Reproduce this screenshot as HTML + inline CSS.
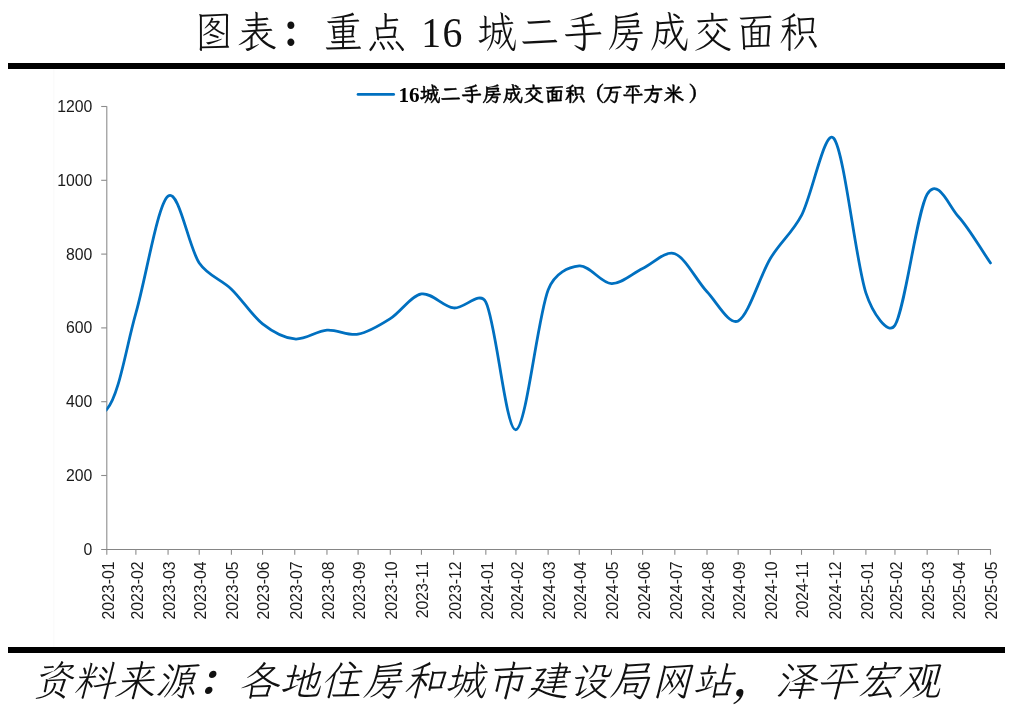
<!DOCTYPE html>
<html lang="zh-CN">
<head>
<meta charset="utf-8">
<title>图表：重点 16 城二手房成交面积</title>
<style>
html,body{margin:0;padding:0;background:#fff;}
body{width:1012px;height:712px;position:relative;overflow:hidden;}
.bar{position:absolute;left:8px;width:997px;height:6px;background:#000;}
</style>
</head>
<body>
<div class="bar" style="top:63px"></div>
<svg width="1012" height="712" viewBox="0 0 1012 712" style="position:absolute;left:0;top:0">
<line x1="53.8" y1="69" x2="53.8" y2="647" stroke="#f9f9f9" stroke-width="1"/>
<g stroke="#8c8c8c" stroke-width="1.1" fill="none">
<line x1="106.8" y1="106.2" x2="106.8" y2="554.8"/>
<line x1="101.2" y1="549.5" x2="991.0" y2="549.5" stroke="#858585" stroke-width="1"/>
<line x1="101.2" y1="475.50" x2="106.8" y2="475.50"/>
<line x1="101.2" y1="401.70" x2="106.8" y2="401.70"/>
<line x1="101.2" y1="327.90" x2="106.8" y2="327.90"/>
<line x1="101.2" y1="254.10" x2="106.8" y2="254.10"/>
<line x1="101.2" y1="180.30" x2="106.8" y2="180.30"/>
<line x1="101.2" y1="106.50" x2="106.8" y2="106.50"/>
<line x1="135.88" y1="549.3" x2="135.88" y2="554.8"/>
<line x1="168.07" y1="549.3" x2="168.07" y2="554.8"/>
<line x1="199.22" y1="549.3" x2="199.22" y2="554.8"/>
<line x1="231.41" y1="549.3" x2="231.41" y2="554.8"/>
<line x1="262.56" y1="549.3" x2="262.56" y2="554.8"/>
<line x1="294.75" y1="549.3" x2="294.75" y2="554.8"/>
<line x1="326.95" y1="549.3" x2="326.95" y2="554.8"/>
<line x1="358.10" y1="549.3" x2="358.10" y2="554.8"/>
<line x1="390.29" y1="549.3" x2="390.29" y2="554.8"/>
<line x1="421.44" y1="549.3" x2="421.44" y2="554.8"/>
<line x1="453.63" y1="549.3" x2="453.63" y2="554.8"/>
<line x1="485.83" y1="549.3" x2="485.83" y2="554.8"/>
<line x1="515.94" y1="549.3" x2="515.94" y2="554.8"/>
<line x1="548.13" y1="549.3" x2="548.13" y2="554.8"/>
<line x1="579.28" y1="549.3" x2="579.28" y2="554.8"/>
<line x1="611.47" y1="549.3" x2="611.47" y2="554.8"/>
<line x1="642.63" y1="549.3" x2="642.63" y2="554.8"/>
<line x1="674.82" y1="549.3" x2="674.82" y2="554.8"/>
<line x1="707.01" y1="549.3" x2="707.01" y2="554.8"/>
<line x1="738.16" y1="549.3" x2="738.16" y2="554.8"/>
<line x1="770.35" y1="549.3" x2="770.35" y2="554.8"/>
<line x1="801.51" y1="549.3" x2="801.51" y2="554.8"/>
<line x1="833.70" y1="549.3" x2="833.70" y2="554.8"/>
<line x1="865.89" y1="549.3" x2="865.89" y2="554.8"/>
<line x1="894.96" y1="549.3" x2="894.96" y2="554.8"/>
<line x1="927.16" y1="549.3" x2="927.16" y2="554.8"/>
<line x1="958.31" y1="549.3" x2="958.31" y2="554.8"/>
<line x1="990.50" y1="549.3" x2="990.50" y2="554.8"/>
</g>
<g font-family="'Liberation Sans', sans-serif" font-size="15.8" fill="#1a1a1a" text-anchor="end">
<text x="92.3" y="554.70">0</text>
<text x="92.3" y="480.90">200</text>
<text x="92.3" y="407.10">400</text>
<text x="92.3" y="333.30">600</text>
<text x="92.3" y="259.50">800</text>
<text x="92.3" y="185.70">1000</text>
<text x="92.3" y="111.90">1200</text>
</g>
<g font-family="'Liberation Sans', sans-serif" font-size="15.8" fill="#1a1a1a" text-anchor="end">
<text transform="translate(113.70,561.5) rotate(-90)">2023-01</text>
<text transform="translate(142.78,561.5) rotate(-90)">2023-02</text>
<text transform="translate(174.97,561.5) rotate(-90)">2023-03</text>
<text transform="translate(206.12,561.5) rotate(-90)">2023-04</text>
<text transform="translate(238.31,561.5) rotate(-90)">2023-05</text>
<text transform="translate(269.46,561.5) rotate(-90)">2023-06</text>
<text transform="translate(301.65,561.5) rotate(-90)">2023-07</text>
<text transform="translate(333.85,561.5) rotate(-90)">2023-08</text>
<text transform="translate(365.00,561.5) rotate(-90)">2023-09</text>
<text transform="translate(397.19,561.5) rotate(-90)">2023-10</text>
<text transform="translate(428.34,561.5) rotate(-90)">2023-11</text>
<text transform="translate(460.53,561.5) rotate(-90)">2023-12</text>
<text transform="translate(492.73,561.5) rotate(-90)">2024-01</text>
<text transform="translate(522.84,561.5) rotate(-90)">2024-02</text>
<text transform="translate(555.03,561.5) rotate(-90)">2024-03</text>
<text transform="translate(586.18,561.5) rotate(-90)">2024-04</text>
<text transform="translate(618.37,561.5) rotate(-90)">2024-05</text>
<text transform="translate(649.53,561.5) rotate(-90)">2024-06</text>
<text transform="translate(681.72,561.5) rotate(-90)">2024-07</text>
<text transform="translate(713.91,561.5) rotate(-90)">2024-08</text>
<text transform="translate(745.06,561.5) rotate(-90)">2024-09</text>
<text transform="translate(777.25,561.5) rotate(-90)">2024-10</text>
<text transform="translate(808.41,561.5) rotate(-90)">2024-11</text>
<text transform="translate(840.60,561.5) rotate(-90)">2024-12</text>
<text transform="translate(872.79,561.5) rotate(-90)">2025-01</text>
<text transform="translate(901.86,561.5) rotate(-90)">2025-02</text>
<text transform="translate(934.06,561.5) rotate(-90)">2025-03</text>
<text transform="translate(965.21,561.5) rotate(-90)">2025-04</text>
<text transform="translate(997.40,561.5) rotate(-90)">2025-05</text>
</g>
<clipPath id="pc"><rect x="106.39999999999999" y="100" width="889.7" height="450"/></clipPath>
<path clip-path="url(#pc)" d="M61.11,398.75 C76.34,402.31 97.08,420.57 106.80,409.45 C119.26,395.18 126.20,346.82 135.88,313.14 C146.09,277.59 157.51,204.53 168.07,196.17 C178.62,187.80 188.66,247.46 199.22,262.96 C208.04,275.90 221.20,279.34 231.41,289.15 C241.97,299.30 252.01,315.54 262.56,323.84 C272.31,331.51 284.02,337.92 294.75,338.97 C305.30,340.00 316.39,330.91 326.95,330.11 C337.33,329.33 347.92,336.01 358.10,334.17 C368.66,332.27 380.05,325.18 390.29,318.67 C400.85,311.97 410.89,295.74 421.44,293.95 C431.63,292.23 442.90,306.62 453.63,307.97 C464.16,309.30 479.56,289.82 485.83,302.07 C496.21,322.36 505.81,431.72 515.94,429.74 C526.32,427.71 537.57,317.20 548.13,289.89 C554.77,272.72 568.73,266.95 579.28,265.91 C589.64,264.88 600.92,283.19 611.47,283.62 C621.86,284.04 632.14,273.44 642.63,268.49 C653.18,263.51 665.13,250.23 674.82,253.73 C685.55,257.61 696.45,280.54 707.01,291.74 C717.11,302.45 729.11,325.64 738.16,320.89 C748.72,315.35 759.80,276.12 770.35,258.53 C780.09,242.31 792.31,232.82 801.51,215.35 C812.06,195.31 824.93,127.69 833.70,138.23 C844.43,151.15 855.68,261.66 865.89,292.84 C872.33,312.51 888.08,336.39 894.96,325.32 C905.18,308.90 916.60,212.46 927.16,194.32 C937.71,176.18 948.93,206.30 958.31,216.46 C968.87,227.90 979.77,247.46 990.50,262.96" fill="none" stroke="#0070c0" stroke-width="2.8" stroke-linecap="round" stroke-linejoin="round"/>
<line x1="358.1" y1="94.4" x2="393.6" y2="94.4" stroke="#0070c0" stroke-width="2.9" stroke-linecap="round"/>
<text transform="translate(0,46.6) scale(0.92,1)" font-family="'Liberation Serif','LXGW WenKai TC','Noto Serif CJK SC',serif" font-size="43.2" font-weight="300" fill="#111" letter-spacing="3.757"><tspan x="210.65">图表<tspan font-family="'Noto Serif CJK SC',serif" font-weight="700">：</tspan>重点 </tspan><tspan x="457.83" letter-spacing="1.6">16 </tspan><tspan x="518.37">城二手房成交面积</tspan></text>
<text x="398.6" y="101" font-family="'Liberation Serif','LXGW WenKai TC','Noto Serif CJK SC',serif" font-size="20.4" font-weight="700" fill="#000" letter-spacing="0.35"><tspan font-size="21.2" dy="0.7" letter-spacing="-0.3">16</tspan><tspan stroke="#000" stroke-width="0.4" dy="-0.7" dx="0.6">城二手房成交面积<tspan font-family="'Noto Serif CJK SC',serif" font-weight="700" dx="-1.8">（</tspan><tspan dx="-2.4" letter-spacing="0">万平方米</tspan><tspan font-family="'Noto Serif CJK SC',serif" font-weight="700" dx="4.7">）</tspan></tspan></text>
<text x="31.2" y="695" font-family="'Liberation Serif','LXGW WenKai TC','Noto Serif CJK SC',serif" font-size="41.3" font-weight="300" font-style="italic" fill="#111">资料来源<tspan font-family="'Noto Serif CJK SC',serif" font-weight="700">：</tspan>各地住房和城市建设局网站<tspan font-family="'Noto Serif CJK SC',serif" font-weight="700">，</tspan>泽平宏观</text>
</svg>
<div class="bar" style="top:647px"></div>
</body>
</html>
